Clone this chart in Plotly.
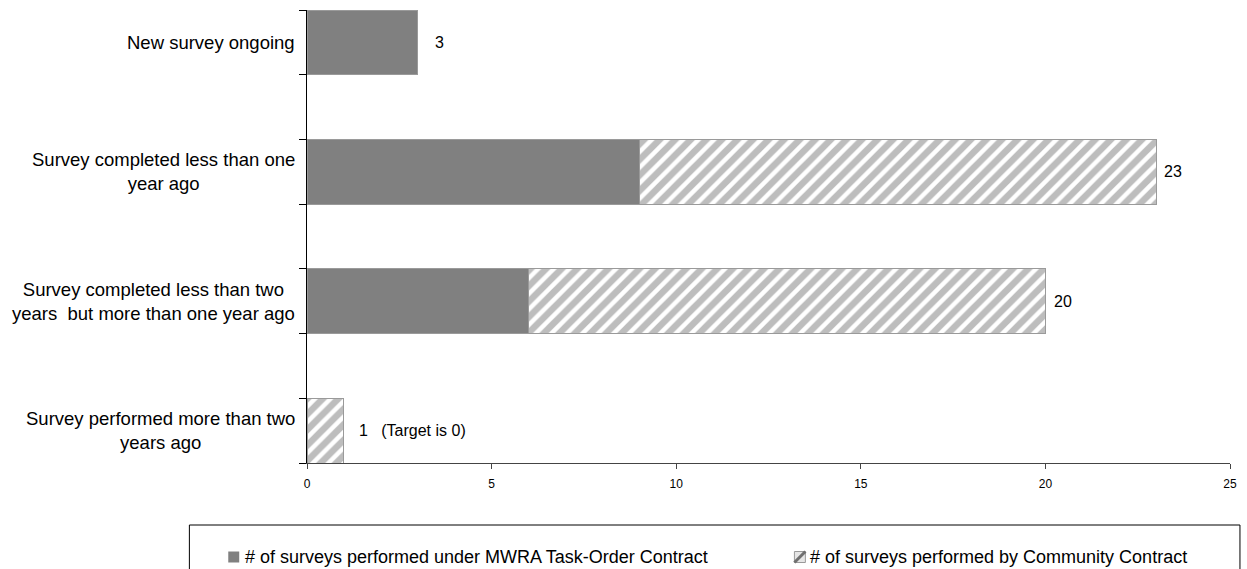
import plotly.graph_objects as go

# Survey status categories, top to bottom
categories = [
    "New survey ongoing",
    "Survey completed less than one<br>year ago",
    "Survey completed less than two<br>years\u00a0 but more than one year ago",
    "Survey performed more than two<br>years ago",
]
mwra_counts = [3, 9, 6, 0]
community_counts = [0, 14, 14, 1]
total_labels = ["3", "23", "20", "1\u00a0\u00a0\u00a0(Target is 0)"]
x_ticks = [0, 5, 10, 15, 20, 25]

series_names = [
    "# of surveys performed under MWRA Task-Order Contract",
    "# of surveys performed by Community Contract",
]

# layout geometry (pixels)
W, H = 1247, 569
M_L, M_R, M_T, M_B = 307, 14, 10, 106
PLOT_W = W - M_L - M_R
PLOT_H = H - M_T - M_B
BAR_W = 0.5
label_gap = [15, 6, 7, 13]

FONT = "Arial, 'Liberation Sans', sans-serif"
SOLID = "#808080"
EDGE = "#9a9a9a"
HATCH = "#7c7c7c"


def paper_x(px):
    return (px - M_L) / PLOT_W


def paper_y(py):
    return (H - M_B - py) / PLOT_H


ypos = list(range(len(categories)))
totals = [a + b for a, b in zip(mwra_counts, community_counts)]

fig = go.Figure()
fig.add_trace(go.Bar(
    y=ypos, x=mwra_counts, orientation="h", width=BAR_W,
    name=series_names[0],
    marker=dict(color=SOLID, line=dict(color=EDGE, width=1)),
    hoverinfo="x",
))
fig.add_trace(go.Bar(
    y=ypos, x=community_counts, orientation="h", width=BAR_W,
    name=series_names[1],
    marker=dict(
        color="white",
        line=dict(color=EDGE, width=1),
        pattern=dict(shape="/", fgcolor=HATCH, bgcolor="white",
                     size=11, solidity=0.6),
    ),
    hoverinfo="x",
))

annotations = []
# category labels, centred lines, right edge just left of the axis
for i, cat in enumerate(categories):
    annotations.append(dict(
        x=0, y=i, xref="x", yref="y", text=cat, showarrow=False,
        xanchor="right", yanchor="middle", align="center", xshift=-10,
        font=dict(family=FONT, size=18.5, color="black"),
    ))
# totals next to each bar
for i, (t, lab) in enumerate(zip(totals, total_labels)):
    annotations.append(dict(
        x=t, y=i, xref="x", yref="y", text=lab, showarrow=False,
        xanchor="left", yanchor="middle", xshift=label_gap[i],
        font=dict(family=FONT, size=16, color="black"),
    ))

# hand-built legend below the chart
legend_y = 557
legend_items = [(228, 243), (796, 810)]
shapes = [dict(
    type="rect", xref="paper", yref="paper",
    x0=paper_x(189), x1=paper_x(1243), y0=paper_y(525), y1=paper_y(600),
    line=dict(color="black", width=1), fillcolor="rgba(0,0,0,0)",
)]
for k, (mx, tx) in enumerate(legend_items):
    x0, x1 = paper_x(mx), paper_x(mx + 11)
    y0, y1 = paper_y(legend_y + 5.5), paper_y(legend_y - 5.5)
    if k == 0:
        shapes.append(dict(type="rect", xref="paper", yref="paper",
                           x0=x0, x1=x1, y0=y0, y1=y1,
                           line=dict(color=SOLID, width=0), fillcolor=SOLID))
    else:
        shapes.append(dict(type="rect", xref="paper", yref="paper",
                           x0=x0, x1=x1, y0=y0, y1=y1,
                           line=dict(color=EDGE, width=1), fillcolor="#e6e6e6"))
        shapes.append(dict(type="line", xref="paper", yref="paper",
                           x0=x0, x1=x1, y0=y0, y1=y1,
                           line=dict(color="#707070", width=3)))
    annotations.append(dict(
        x=paper_x(tx), y=paper_y(legend_y), xref="paper", yref="paper",
        text=series_names[k], showarrow=False, xanchor="left", yanchor="middle",
        font=dict(family=FONT, size=18, color="black"),
    ))

edge_ticks = []
for i in ypos:
    edge_ticks += [i - BAR_W / 2, i + BAR_W / 2]

fig.update_layout(
    width=W, height=H,
    margin=dict(l=M_L, r=M_R, t=M_T, b=M_B),
    barmode="stack",
    showlegend=False,
    plot_bgcolor="white", paper_bgcolor="white",
    font=dict(family=FONT, color="black"),
    xaxis=dict(
        range=[0, 25], tickvals=x_ticks, ticks="outside", ticklen=5,
        tickcolor="#444", showline=True, linecolor="#444", linewidth=1,
        showgrid=False, zeroline=False, ticklabelstandoff=5,
        tickfont=dict(family=FONT, size=12, color="black"),
    ),
    yaxis=dict(
        range=[len(categories) - 1 + BAR_W / 2, -BAR_W / 2],
        tickvals=edge_ticks, showticklabels=False, ticks="outside",
        ticklen=7, tickcolor="black", showline=True, linecolor="black",
        linewidth=1, showgrid=False, zeroline=False,
    ),
    annotations=annotations,
    shapes=shapes,
)

fig.write_html("out.html")
